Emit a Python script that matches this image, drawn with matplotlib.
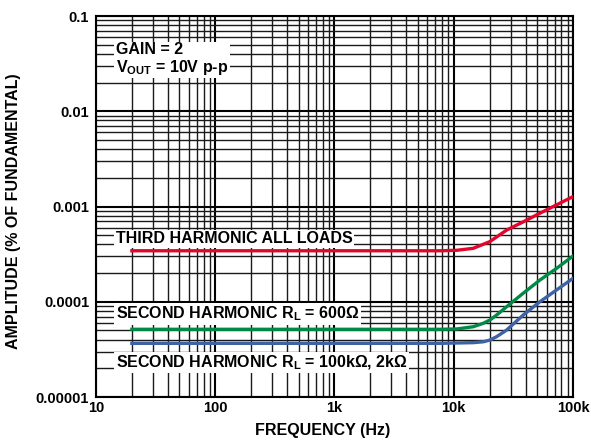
import matplotlib
matplotlib.use("Agg")
import matplotlib.pyplot as plt
from matplotlib.ticker import FixedLocator, LogLocator, NullFormatter

plt.rcParams['font.family'] = ['Liberation Sans', 'DejaVu Sans']
plt.rcParams['font.weight'] = 'bold'
plt.rcParams['mathtext.fontset'] = 'custom'
plt.rcParams['mathtext.rm'] = 'Liberation Sans:bold'
plt.rcParams['mathtext.it'] = 'Liberation Sans:bold'
plt.rcParams['mathtext.bf'] = 'Liberation Sans:bold'

# curves (Hz, % of fundamental)
third_f = [20, 1000, 7700, 10600, 14600, 20100, 27800, 38300, 52800, 72800, 100000]
third_a = [3.43e-4, 3.43e-4, 3.43e-4, 3.47e-4, 3.64e-4, 4.28e-4, 5.66e-4, 6.9e-4,
           8.5e-4, 1.04e-3, 1.27e-3]

second600_f = [20, 1000, 7700, 10600, 14600, 17700, 20100, 22900, 27800, 38300,
               52800, 72800, 100000]
second600_a = [5.14e-5, 5.14e-5, 5.14e-5, 5.18e-5, 5.47e-5, 5.94e-5, 6.43e-5, 7.26e-5,
               8.87e-5, 1.23e-4, 1.69e-4, 2.24e-4, 3.02e-4]

second100k_f = [20, 1000, 7700, 14600, 17700, 20100, 22900, 27800, 38300, 52800,
                72800, 100000]
second100k_a = [3.66e-5, 3.66e-5, 3.66e-5, 3.72e-5, 3.8e-5, 3.96e-5, 4.3e-5, 5.05e-5,
                7.26e-5, 1.0e-4, 1.33e-4, 1.76e-4]

x_ticks = [10, 100, 1000, 10000, 100000]
x_labels = ['10', '100', '1k', '10k', '100k']
y_ticks = [1e-5, 1e-4, 1e-3, 1e-2, 1e-1]
y_labels = ['0.00001', '0.0001', '0.001', '0.01', '0.1']

fig = plt.figure(figsize=(5.91, 4.42), dpi=100)
ax = fig.add_axes([0.1624, 0.1018, 0.8071, 0.862])
ax.set_xscale('log')
ax.set_yscale('log')
ax.set_xlim(10, 100000)
ax.set_ylim(1e-5, 1e-1)

ax.xaxis.set_major_locator(FixedLocator(x_ticks))
ax.set_xticklabels(x_labels)
ax.yaxis.set_major_locator(FixedLocator(y_ticks))
ax.set_yticklabels(y_labels)
ax.xaxis.set_minor_locator(LogLocator(base=10, subs=range(2, 10), numticks=20))
ax.yaxis.set_minor_locator(LogLocator(base=10, subs=range(2, 10), numticks=20))
ax.xaxis.set_minor_formatter(NullFormatter())
ax.yaxis.set_minor_formatter(NullFormatter())
ax.tick_params(which='both', length=0, labelsize=10.5)
ax.tick_params(axis='y', pad=5)
ax.tick_params(axis='x', pad=3)
for lab in ax.get_xticklabels() + ax.get_yticklabels():
    lab.set_fontweight('bold')

ax.grid(which='major', color='black', lw=1.5)
ax.grid(which='minor', color='#1a1a1a', lw=1.0)
ax.set_axisbelow(True)
for s in ax.spines.values():
    s.set_linewidth(1.5)

# curves sit above the white label boxes
ax.plot(third_f, third_a, color='#e2062c', lw=2.4, zorder=5)
ax.plot(second600_f, second600_a, color='#008a45', lw=2.4, zorder=5)
ax.plot(second100k_f, second100k_a, color='#3e62a4', lw=2.4, zorder=5)

box = dict(facecolor='white', edgecolor='none', pad=1.2)
fs = 11.5
ax.text(14.7, 0.035, 'GAIN = 2\n$\\mathrm{V_{OUT}}$ = 10V p-p', fontsize=fs,
        fontweight='bold', va='center', ha='left', bbox=box, linespacing=1.05, zorder=4)
ax.text(14.7, 4.6e-4, 'THIRD HARMONIC ALL LOADS', fontsize=fs, fontweight='bold',
        va='center', ha='left', bbox=box, zorder=4)
ax.text(14.7, 7.5e-5, 'SECOND HARMONIC $\\mathrm{R_L}$ = 600Ω', fontsize=fs,
        fontweight='bold', va='center', ha='left', bbox=box, zorder=4)
ax.text(14.7, 2.3e-5, 'SECOND HARMONIC $\\mathrm{R_L}$ = 100kΩ, 2kΩ', fontsize=fs,
        fontweight='bold', va='center', ha='left', bbox=box, zorder=4)

fig.text(323 / 591, 1 - 431 / 442, 'FREQUENCY (Hz)', fontsize=fs, fontweight='bold',
         ha='center', va='center')
fig.text(14 / 591, 1 - 211 / 442, 'AMPLITUDE (% OF FUNDAMENTAL)', fontsize=fs,
         fontweight='bold', ha='center', va='center', rotation=90)

fig.savefig('out.png', dpi=100)
